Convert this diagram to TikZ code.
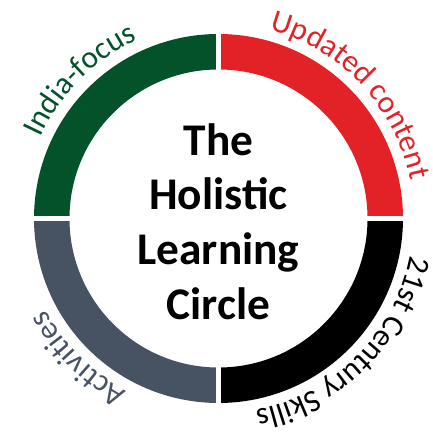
\documentclass[tikz,border=0pt]{standalone}
\usepackage{fontspec}
\setmainfont{Carlito}
\usepackage{tikz}
\usetikzlibrary{decorations.text}
\definecolor{igreen}{HTML}{03522A}
\definecolor{ured}{HTML}{E32227}
\definecolor{sgray}{HTML}{475263}
\newcommand\arcfont{\fontsize{23.5}{27}\selectfont}

\begin{document}
\begin{tikzpicture}[x=0.75pt,y=0.75pt,
  seg/.style={line width=26.6pt},
  gap/.style={draw=white,line width=3.75pt},
  lbl/.style={decorate,decoration={text along path,text align=center,text={#1}}}]
\useasboundingbox (0,0) rectangle (432,435);
\coordinate (c) at (218.5,216.5);
\draw[seg,igreen] (c) ++(90:166.75) arc[start angle=90,end angle=180,radius=166.75];
\draw[seg,ured] (c) ++(0:166.75) arc[start angle=0,end angle=90,radius=166.75];
\draw[seg,black] (c) ++(270:166.75) arc[start angle=270,end angle=360,radius=166.75];
\draw[seg,sgray] (c) ++(180:166.75) arc[start angle=180,end angle=270,radius=166.75];
\coordinate (n) at (218.5,410);\coordinate (s) at (218.5,23);
\coordinate (w) at (25,216.5);\coordinate (e) at (412,216.5);
\draw[gap] (n) -- (s);\draw[gap] (w) -- (e);
\path[lbl={|\arcfont\color{igreen}|India-focus}] (c) ++(179:195.5) arc[start angle=179,end angle=91,radius=195.5];
\path[lbl={|\arcfont\color{ured}|Updated content}] (c) ++(88:195.5) arc[start angle=88,end angle=-2,radius=195.5];
\path[lbl={|\arcfont\color{black}|21st Century Skills}] (c) ++(0:195.5) arc[start angle=0,end angle=-90,radius=195.5];
\path[lbl={|\arcfont\color{sgray}|Activities}] (c) ++(269:195.5) arc[start angle=269,end angle=181,radius=195.5];
\node[font=\bfseries\fontsize{34}{41}\selectfont,align=center] (title) at ([yshift=-2.25pt]c) {The\\Holistic\\Learning\\Circle};
\end{tikzpicture}
\end{document}
